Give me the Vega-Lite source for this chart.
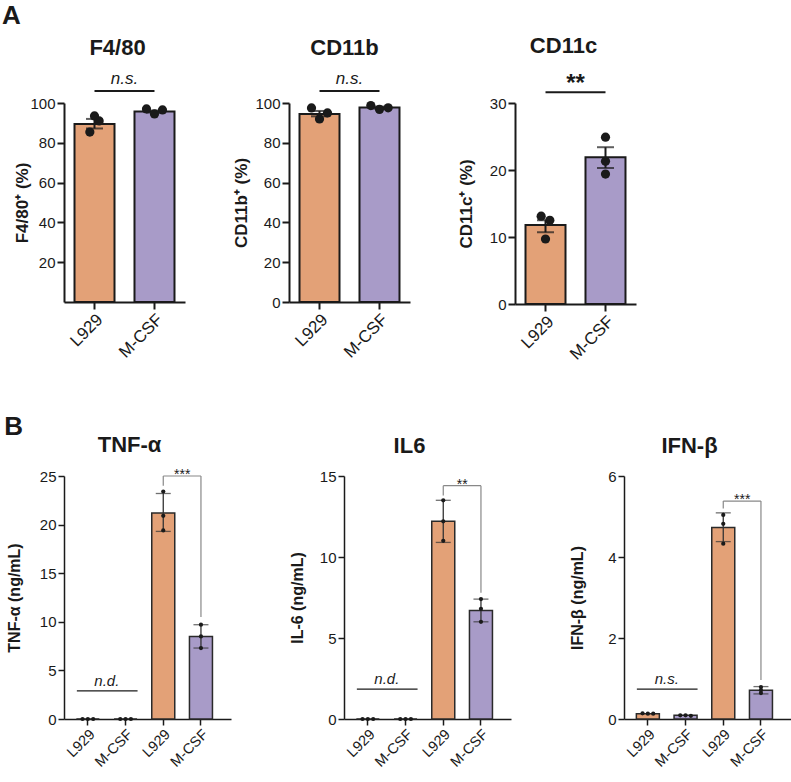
{
"$schema":"https://vega.github.io/schema/vega-lite/v6.json",
"padding":{"left":1,"top":3,"right":3,"bottom":3},
"background":"white",
"config":{
 "font":"Liberation Sans",
 "view":{"stroke":null},
 "axis":{"grid":false,"domainColor":"#1a1a1a","tickColor":"#1a1a1a","labelColor":"#1a1a1a","titleColor":"#1a1a1a","domainWidth":2,"tickWidth":2,"tickSize":7,"labelFontSize":15,"titleFontSize":17,"titleFontWeight":"bold","labelPadding":2,"labelOverlap":false,"labelFont":"Liberation Sans","titleFont":"Liberation Sans"},
 "title":{"font":"Liberation Sans","color":"#1a1a1a","fontWeight":"bold"},
 "text":{"font":"Liberation Sans","color":"#1a1a1a"}
},
"spacing":51,
"vconcat":[
{
 "title":{"text":"A","fontSize":26,"anchor":"start","offset":6,"dx":-12},
 "spacing":47,
 "hconcat":[
 {
  "width":121,"height":199,
  "title":{"text":"F4/80","fontSize":22,"offset":10,"dx":-7},
  "data":{"values":[{"g":"L929","m":89.4,"lo":87.2,"hi":92.0},{"g":"M-CSF","m":95.7,"lo":95.2,"hi":96.2}]},
  "encoding":{"x":{"field":"g","type":"nominal","sort":null,"title":null,"scale":{"domain":["L929","M-CSF"],"paddingInner":0.333,"paddingOuter":0.175},"axis":{"labelAngle":-45,"labelFontSize":17}}},
  "resolve":{"scale":{"xOffset":"independent"}},
  "layer":[
   {"mark":{"type":"bar","stroke":"#1a1a1a","strokeWidth":2,"width":40},"encoding":{"y":{"field":"m","type":"quantitative","scale":{"domain":[0,100],"nice":false},"title":"F4/80⁺ (%)","axis":{"values":[20,40,60,80,100],"titlePadding":-2,"labelOverlap":false}},"color":{"field":"g","type":"nominal","scale":{"domain":["L929","M-CSF"],"range":["#E3A177","#A89BC8"]},"legend":null}}},
   {"mark":{"type":"rule","color":"#1a1a1a","strokeWidth":2},"encoding":{"y":{"field":"lo","type":"quantitative"},"y2":{"field":"hi"}}},
   {"mark":{"type":"tick","color":"#1a1a1a","thickness":2,"size":17},"encoding":{"y":{"field":"lo","type":"quantitative"}}},
   {"mark":{"type":"tick","color":"#1a1a1a","thickness":2,"size":17},"encoding":{"y":{"field":"hi","type":"quantitative"}}},
   {"data":{"values":[{"g":"L929","rep":1,"v":85.4},{"g":"L929","rep":2,"v":93.5},{"g":"L929","rep":3,"v":91.0}]},"mark":{"type":"circle","size":85,"color":"#1a1a1a","opacity":1},"encoding":{"y":{"field":"v","type":"quantitative"},"xOffset":{"field":"rep","type":"ordinal","scale":{"type":"point","range":[13,27]}}}},
   {"data":{"values":[{"g":"M-CSF","rep":1,"v":97.0},{"g":"M-CSF","rep":2,"v":94.5},{"g":"M-CSF","rep":3,"v":96.5}]},"mark":{"type":"circle","size":85,"color":"#1a1a1a","opacity":1},"encoding":{"y":{"field":"v","type":"quantitative"},"xOffset":{"field":"rep","type":"ordinal","scale":{"type":"point","range":[8,32]}}}},
   {"data":{"values":[{"g1":"L929","g2":"M-CSF","y":106,"t":"n.s."}]},"layer":[
     {"mark":{"type":"rule","color":"#1a1a1a","strokeWidth":2},"encoding":{"x":{"field":"g1","type":"nominal","sort":null,"title":null},"x2":{"field":"g2"},"y":{"field":"y","type":"quantitative"}}},
     {"mark":{"type":"text","fontSize":17,"fontStyle":"italic","dx":30,"dy":-7,"baseline":"alphabetic"},"encoding":{"x":{"field":"g1","type":"nominal","sort":null,"title":null},"y":{"field":"y","type":"quantitative"},"text":{"field":"t"}}}
   ]}
  ]
 },
 {
  "width":121,"height":199,
  "title":{"text":"CD11b","fontSize":22,"offset":10,"dx":-5},
  "data":{"values":[{"g":"L929","m":94.5,"lo":93.3,"hi":96.0},{"g":"M-CSF","m":97.7,"lo":97.2,"hi":98.2}]},
  "encoding":{"x":{"field":"g","type":"nominal","sort":null,"title":null,"scale":{"domain":["L929","M-CSF"],"paddingInner":0.333,"paddingOuter":0.175},"axis":{"labelAngle":-45,"labelFontSize":17}}},
  "resolve":{"scale":{"xOffset":"independent"}},
  "layer":[
   {"mark":{"type":"bar","stroke":"#1a1a1a","strokeWidth":2,"width":40},"encoding":{"y":{"field":"m","type":"quantitative","scale":{"domain":[0,100],"nice":false},"title":"CD11b⁺ (%)","axis":{"tickCount":5,"titlePadding":4,"labelOverlap":false}},"color":{"field":"g","type":"nominal","scale":{"domain":["L929","M-CSF"],"range":["#E3A177","#A89BC8"]},"legend":null}}},
   {"mark":{"type":"rule","color":"#1a1a1a","strokeWidth":2},"encoding":{"y":{"field":"lo","type":"quantitative"},"y2":{"field":"hi"}}},
   {"mark":{"type":"tick","color":"#1a1a1a","thickness":2,"size":17},"encoding":{"y":{"field":"lo","type":"quantitative"}}},
   {"mark":{"type":"tick","color":"#1a1a1a","thickness":2,"size":17},"encoding":{"y":{"field":"hi","type":"quantitative"}}},
   {"data":{"values":[{"g":"L929","rep":1,"v":97.5},{"g":"L929","rep":2,"v":92.0},{"g":"L929","rep":3,"v":95.0}]},"mark":{"type":"circle","size":85,"color":"#1a1a1a","opacity":1},"encoding":{"y":{"field":"v","type":"quantitative"},"xOffset":{"field":"rep","type":"ordinal","scale":{"type":"point","range":[8,32]}}}},
   {"data":{"values":[{"g":"M-CSF","rep":1,"v":98.7},{"g":"M-CSF","rep":2,"v":96.8},{"g":"M-CSF","rep":3,"v":97.6}]},"mark":{"type":"circle","size":85,"color":"#1a1a1a","opacity":1},"encoding":{"y":{"field":"v","type":"quantitative"},"xOffset":{"field":"rep","type":"ordinal","scale":{"type":"point","range":[7,33]}}}},
   {"data":{"values":[{"g1":"L929","g2":"M-CSF","y":106,"t":"n.s."}]},"layer":[
     {"mark":{"type":"rule","color":"#1a1a1a","strokeWidth":2},"encoding":{"x":{"field":"g1","type":"nominal","sort":null,"title":null},"x2":{"field":"g2"},"y":{"field":"y","type":"quantitative"}}},
     {"mark":{"type":"text","fontSize":17,"fontStyle":"italic","dx":30,"dy":-7,"baseline":"alphabetic"},"encoding":{"x":{"field":"g1","type":"nominal","sort":null,"title":null},"y":{"field":"y","type":"quantitative"},"text":{"field":"t"}}}
   ]}
  ]
 },
 {
  "width":121,"height":201,
  "title":{"text":"CD11c","fontSize":22,"offset":14,"dx":-12},
  "data":{"values":[{"g":"L929","m":11.8,"lo":10.7,"hi":12.5},{"g":"M-CSF","m":21.9,"lo":20.3,"hi":23.4}]},
  "encoding":{"x":{"field":"g","type":"nominal","sort":null,"title":null,"scale":{"domain":["L929","M-CSF"],"paddingInner":0.333,"paddingOuter":0.175},"axis":{"labelAngle":-45,"labelFontSize":17}}},
  "resolve":{"scale":{"xOffset":"independent"}},
  "layer":[
   {"mark":{"type":"bar","stroke":"#1a1a1a","strokeWidth":2,"width":40},"encoding":{"y":{"field":"m","type":"quantitative","scale":{"domain":[0,30],"nice":false},"title":"CD11c⁺ (%)","axis":{"values":[0,10,20,30],"titlePadding":14,"labelOverlap":false}},"color":{"field":"g","type":"nominal","scale":{"domain":["L929","M-CSF"],"range":["#E3A177","#A89BC8"]},"legend":null}}},
   {"mark":{"type":"rule","color":"#1a1a1a","strokeWidth":2},"encoding":{"y":{"field":"lo","type":"quantitative"},"y2":{"field":"hi"}}},
   {"mark":{"type":"tick","color":"#1a1a1a","thickness":2,"size":17},"encoding":{"y":{"field":"lo","type":"quantitative"}}},
   {"mark":{"type":"tick","color":"#1a1a1a","thickness":2,"size":17},"encoding":{"y":{"field":"hi","type":"quantitative"}}},
   {"data":{"values":[{"g":"L929","rep":1,"v":13.1},{"g":"L929","rep":2,"v":9.7},{"g":"L929","rep":3,"v":12.5}]},"mark":{"type":"circle","size":85,"color":"#1a1a1a","opacity":1},"encoding":{"y":{"field":"v","type":"quantitative"},"xOffset":{"field":"rep","type":"ordinal","scale":{"type":"point","range":[13.5,26.5]}}}},
   {"data":{"values":[{"g":"M-CSF","rep":1,"v":24.9},{"g":"M-CSF","rep":2,"v":21.3},{"g":"M-CSF","rep":3,"v":19.4}]},"mark":{"type":"circle","size":85,"color":"#1a1a1a","opacity":1},"encoding":{"y":{"field":"v","type":"quantitative"}}},
   {"data":{"values":[{"g1":"L929","g2":"M-CSF","y":31.6,"t":"**"}]},"layer":[
     {"mark":{"type":"rule","color":"#1a1a1a","strokeWidth":2},"encoding":{"x":{"field":"g1","type":"nominal","sort":null,"title":null},"x2":{"field":"g2"},"y":{"field":"y","type":"quantitative"}}},
     {"mark":{"type":"text","fontSize":24,"fontWeight":"bold","dx":30,"dy":-1,"baseline":"alphabetic"},"encoding":{"x":{"field":"g1","type":"nominal","sort":null,"title":null},"y":{"field":"y","type":"quantitative"},"text":{"field":"t"}}}
   ]}
  ]
 }
 ]
},
{
 "title":{"text":"B","fontSize":26,"anchor":"start","offset":-6,"dx":-2},
 "spacing":58,
 "hconcat":[
 {
  "width":167,"height":243,
  "title":{"text":"TNF-α","fontSize":22,"offset":11,"dx":-18},
  "data":{"values":[{"g":"L929|-","m":0},{"g":"M-CSF|-","m":0},{"g":"L929|+","m":21.2,"lo":19.3,"hi":23.2},{"g":"M-CSF|+","m":8.5,"lo":7.3,"hi":9.7}]},
  "encoding":{"x":{"field":"g","type":"nominal","sort":null,"title":null,"scale":{"domain":["L929|-","M-CSF|-","L929|+","M-CSF|+"],"paddingInner":0.39,"paddingOuter":0.41,"align":0.4},"axis":{"labelExpr":"split(datum.value,'|')[0]","labelAngle":-45,"labelFontSize":14.5,"domainWidth":1.5,"tickWidth":1.5,"tickSize":6}}},
  "layer":[
   {"mark":{"type":"bar","stroke":"#2a2a2a","strokeWidth":1.5,"width":23},"encoding":{"y":{"field":"m","type":"quantitative","scale":{"domain":[0,25],"nice":false},"title":"TNF-α (ng/mL)","axis":{"values":[0,5,10,15,20,25],"titleFontSize":16,"domainWidth":1.5,"tickWidth":1.5,"tickSize":6,"titlePadding":17}},"color":{"field":"g","type":"nominal","scale":{"domain":["L929|-","M-CSF|-","L929|+","M-CSF|+"],"range":["#E3A177","#A89BC8","#E3A177","#A89BC8"]},"legend":null}}},
   {"mark":{"type":"rule","color":"#333333","strokeWidth":1.3},"encoding":{"y":{"field":"lo","type":"quantitative"},"y2":{"field":"hi"}}},
   {"mark":{"type":"tick","color":"#333333","thickness":1.3,"size":15},"encoding":{"y":{"field":"lo","type":"quantitative"}}},
   {"mark":{"type":"tick","color":"#333333","thickness":1.3,"size":15},"encoding":{"y":{"field":"hi","type":"quantitative"}}},
   {"data":{"values":[{"g":"L929|-","rep":1,"v":0},{"g":"L929|-","rep":2,"v":0},{"g":"L929|-","rep":3,"v":0},{"g":"M-CSF|-","rep":1,"v":0},{"g":"M-CSF|-","rep":2,"v":0},{"g":"M-CSF|-","rep":3,"v":0}]},"mark":{"type":"circle","size":18,"color":"#1a1a1a","opacity":1},"encoding":{"y":{"field":"v","type":"quantitative"},"xOffset":{"field":"rep","type":"ordinal","scale":{"type":"point","range":[3.5,19.5]}}}},
   {"data":{"values":[{"g":"L929|+","v":23.4},{"g":"L929|+","v":20.9},{"g":"L929|+","v":19.4},{"g":"M-CSF|+","v":9.7},{"g":"M-CSF|+","v":8.5},{"g":"M-CSF|+","v":7.3}]},"mark":{"type":"circle","size":18,"color":"#1a1a1a","opacity":1},"encoding":{"y":{"field":"v","type":"quantitative"}}},
   {"data":{"values":[{"g1":"L929|-","g2":"M-CSF|-","y":2.9,"t":"n.d."}]},"layer":[
     {"mark":{"type":"rule","color":"#1a1a1a","strokeWidth":1.3,"xOffset":-11,"x2Offset":12},"encoding":{"x":{"field":"g1","type":"nominal","sort":null,"title":null},"x2":{"field":"g2"},"y":{"field":"y","type":"quantitative"}}},
     {"mark":{"type":"text","fontSize":15,"fontStyle":"italic","dx":19,"dy":-5,"baseline":"alphabetic"},"encoding":{"x":{"field":"g1","type":"nominal","sort":null,"title":null},"y":{"field":"y","type":"quantitative"},"text":{"field":"t"}}}
   ]},
   {"data":{"values":[{"g1":"L929|+","g2":"M-CSF|+","y":25,"t":"***"}]},"layer":[
     {"mark":{"type":"rule","color":"#888888","strokeWidth":1.2},"encoding":{"x":{"field":"g1","type":"nominal","sort":null,"title":null},"x2":{"field":"g2"},"y":{"field":"y","type":"quantitative"}}},
     {"mark":{"type":"text","fontSize":14,"dx":19,"dy":3,"baseline":"alphabetic"},"encoding":{"x":{"field":"g1","type":"nominal","sort":null,"title":null},"y":{"field":"y","type":"quantitative"},"text":{"field":"t"}}}
   ]},
   {"data":{"values":[{"g":"L929|+","a":25,"b":24.0},{"g":"M-CSF|+","a":25,"b":10.5}]},"mark":{"type":"rule","color":"#888888","strokeWidth":1.2},"encoding":{"y":{"field":"a","type":"quantitative"},"y2":{"field":"b"}}}
  ]
 },
 {
  "width":167,"height":243,
  "title":{"text":"IL6","fontSize":22,"offset":11,"dx":-18},
  "data":{"values":[{"g":"L929|-","m":0},{"g":"M-CSF|-","m":0},{"g":"L929|+","m":12.2,"lo":10.9,"hi":13.5},{"g":"M-CSF|+","m":6.7,"lo":6.0,"hi":7.4}]},
  "encoding":{"x":{"field":"g","type":"nominal","sort":null,"title":null,"scale":{"domain":["L929|-","M-CSF|-","L929|+","M-CSF|+"],"paddingInner":0.39,"paddingOuter":0.41,"align":0.4},"axis":{"labelExpr":"split(datum.value,'|')[0]","labelAngle":-45,"labelFontSize":14.5,"domainWidth":1.5,"tickWidth":1.5,"tickSize":6}}},
  "layer":[
   {"mark":{"type":"bar","stroke":"#2a2a2a","strokeWidth":1.5,"width":23},"encoding":{"y":{"field":"m","type":"quantitative","scale":{"domain":[0,15],"nice":false},"title":"IL-6 (ng/mL)","axis":{"values":[0,5,10,15],"titleFontSize":16,"domainWidth":1.5,"tickWidth":1.5,"tickSize":6,"titlePadding":14}},"color":{"field":"g","type":"nominal","scale":{"domain":["L929|-","M-CSF|-","L929|+","M-CSF|+"],"range":["#E3A177","#A89BC8","#E3A177","#A89BC8"]},"legend":null}}},
   {"mark":{"type":"rule","color":"#333333","strokeWidth":1.3},"encoding":{"y":{"field":"lo","type":"quantitative"},"y2":{"field":"hi"}}},
   {"mark":{"type":"tick","color":"#333333","thickness":1.3,"size":15},"encoding":{"y":{"field":"lo","type":"quantitative"}}},
   {"mark":{"type":"tick","color":"#333333","thickness":1.3,"size":15},"encoding":{"y":{"field":"hi","type":"quantitative"}}},
   {"data":{"values":[{"g":"L929|-","rep":1,"v":0},{"g":"L929|-","rep":2,"v":0},{"g":"L929|-","rep":3,"v":0},{"g":"M-CSF|-","rep":1,"v":0},{"g":"M-CSF|-","rep":2,"v":0},{"g":"M-CSF|-","rep":3,"v":0}]},"mark":{"type":"circle","size":18,"color":"#1a1a1a","opacity":1},"encoding":{"y":{"field":"v","type":"quantitative"},"xOffset":{"field":"rep","type":"ordinal","scale":{"type":"point","range":[3.5,19.5]}}}},
   {"data":{"values":[{"g":"L929|+","v":13.5},{"g":"L929|+","v":12.2},{"g":"L929|+","v":11.0},{"g":"M-CSF|+","v":7.4},{"g":"M-CSF|+","v":6.8},{"g":"M-CSF|+","v":6.0}]},"mark":{"type":"circle","size":18,"color":"#1a1a1a","opacity":1},"encoding":{"y":{"field":"v","type":"quantitative"}}},
   {"data":{"values":[{"g1":"L929|-","g2":"M-CSF|-","y":1.85,"t":"n.d."}]},"layer":[
     {"mark":{"type":"rule","color":"#1a1a1a","strokeWidth":1.3,"xOffset":-11,"x2Offset":12},"encoding":{"x":{"field":"g1","type":"nominal","sort":null,"title":null},"x2":{"field":"g2"},"y":{"field":"y","type":"quantitative"}}},
     {"mark":{"type":"text","fontSize":15,"fontStyle":"italic","dx":19,"dy":-5,"baseline":"alphabetic"},"encoding":{"x":{"field":"g1","type":"nominal","sort":null,"title":null},"y":{"field":"y","type":"quantitative"},"text":{"field":"t"}}}
   ]},
   {"data":{"values":[{"g1":"L929|+","g2":"M-CSF|+","y":14.4,"t":"**"}]},"layer":[
     {"mark":{"type":"rule","color":"#888888","strokeWidth":1.2},"encoding":{"x":{"field":"g1","type":"nominal","sort":null,"title":null},"x2":{"field":"g2"},"y":{"field":"y","type":"quantitative"}}},
     {"mark":{"type":"text","fontSize":14,"dx":19,"dy":3,"baseline":"alphabetic"},"encoding":{"x":{"field":"g1","type":"nominal","sort":null,"title":null},"y":{"field":"y","type":"quantitative"},"text":{"field":"t"}}}
   ]},
   {"data":{"values":[{"g":"L929|+","a":14.4,"b":13.8},{"g":"M-CSF|+","a":14.4,"b":7.8}]},"mark":{"type":"rule","color":"#888888","strokeWidth":1.2},"encoding":{"y":{"field":"a","type":"quantitative"},"y2":{"field":"b"}}}
  ]
 },
 {
  "width":167,"height":243,
  "title":{"text":"IFN-β","fontSize":22,"offset":11,"dx":-18},
  "data":{"values":[{"g":"L929|-","m":0.13},{"g":"M-CSF|-","m":0.09},{"g":"L929|+","m":4.73,"lo":4.38,"hi":5.09},{"g":"M-CSF|+","m":0.71,"lo":0.62,"hi":0.80}]},
  "encoding":{"x":{"field":"g","type":"nominal","sort":null,"title":null,"scale":{"domain":["L929|-","M-CSF|-","L929|+","M-CSF|+"],"paddingInner":0.39,"paddingOuter":0.41,"align":0.4},"axis":{"labelExpr":"split(datum.value,'|')[0]","labelAngle":-45,"labelFontSize":14.5,"domainWidth":1.5,"tickWidth":1.5,"tickSize":6}}},
  "layer":[
   {"mark":{"type":"bar","stroke":"#2a2a2a","strokeWidth":1.5,"width":23},"encoding":{"y":{"field":"m","type":"quantitative","scale":{"domain":[0,6],"nice":false},"title":"IFN-β (ng/mL)","axis":{"values":[0,2,4,6],"titleFontSize":16,"domainWidth":1.5,"tickWidth":1.5,"tickSize":6,"titlePadding":22}},"color":{"field":"g","type":"nominal","scale":{"domain":["L929|-","M-CSF|-","L929|+","M-CSF|+"],"range":["#C98F4F","#8F88AA","#E3A177","#A89BC8"]},"legend":null}}},
   {"mark":{"type":"rule","color":"#333333","strokeWidth":1.3},"encoding":{"y":{"field":"lo","type":"quantitative"},"y2":{"field":"hi"}}},
   {"mark":{"type":"tick","color":"#333333","thickness":1.3,"size":15},"encoding":{"y":{"field":"lo","type":"quantitative"}}},
   {"mark":{"type":"tick","color":"#333333","thickness":1.3,"size":15},"encoding":{"y":{"field":"hi","type":"quantitative"}}},
   {"data":{"values":[{"g":"L929|-","rep":1,"v":0.14},{"g":"L929|-","rep":2,"v":0.13},{"g":"L929|-","rep":3,"v":0.13},{"g":"M-CSF|-","rep":1,"v":0.09},{"g":"M-CSF|-","rep":2,"v":0.09},{"g":"M-CSF|-","rep":3,"v":0.08}]},"mark":{"type":"circle","size":18,"color":"#1a1a1a","opacity":1},"encoding":{"y":{"field":"v","type":"quantitative"},"xOffset":{"field":"rep","type":"ordinal","scale":{"type":"point","range":[3.5,19.5]}}}},
   {"data":{"values":[{"g":"L929|+","v":5.04},{"g":"L929|+","v":4.82},{"g":"L929|+","v":4.33},{"g":"M-CSF|+","v":0.79},{"g":"M-CSF|+","v":0.71},{"g":"M-CSF|+","v":0.64}]},"mark":{"type":"circle","size":18,"color":"#1a1a1a","opacity":1},"encoding":{"y":{"field":"v","type":"quantitative"}}},
   {"data":{"values":[{"g1":"L929|-","g2":"M-CSF|-","y":0.74,"t":"n.s."}]},"layer":[
     {"mark":{"type":"rule","color":"#1a1a1a","strokeWidth":1.3,"xOffset":-11,"x2Offset":12},"encoding":{"x":{"field":"g1","type":"nominal","sort":null,"title":null},"x2":{"field":"g2"},"y":{"field":"y","type":"quantitative"}}},
     {"mark":{"type":"text","fontSize":15,"fontStyle":"italic","dx":19,"dy":-5,"baseline":"alphabetic"},"encoding":{"x":{"field":"g1","type":"nominal","sort":null,"title":null},"y":{"field":"y","type":"quantitative"},"text":{"field":"t"}}}
   ]},
   {"data":{"values":[{"g1":"L929|+","g2":"M-CSF|+","y":5.38,"t":"***"}]},"layer":[
     {"mark":{"type":"rule","color":"#888888","strokeWidth":1.2},"encoding":{"x":{"field":"g1","type":"nominal","sort":null,"title":null},"x2":{"field":"g2"},"y":{"field":"y","type":"quantitative"}}},
     {"mark":{"type":"text","fontSize":14,"dx":19,"dy":3,"baseline":"alphabetic"},"encoding":{"x":{"field":"g1","type":"nominal","sort":null,"title":null},"y":{"field":"y","type":"quantitative"},"text":{"field":"t"}}}
   ]},
   {"data":{"values":[{"g":"L929|+","a":5.38,"b":5.2},{"g":"M-CSF|+","a":5.38,"b":0.96}]},"mark":{"type":"rule","color":"#888888","strokeWidth":1.2},"encoding":{"y":{"field":"a","type":"quantitative"},"y2":{"field":"b"}}}
  ]
 }
 ]
}
]
}
